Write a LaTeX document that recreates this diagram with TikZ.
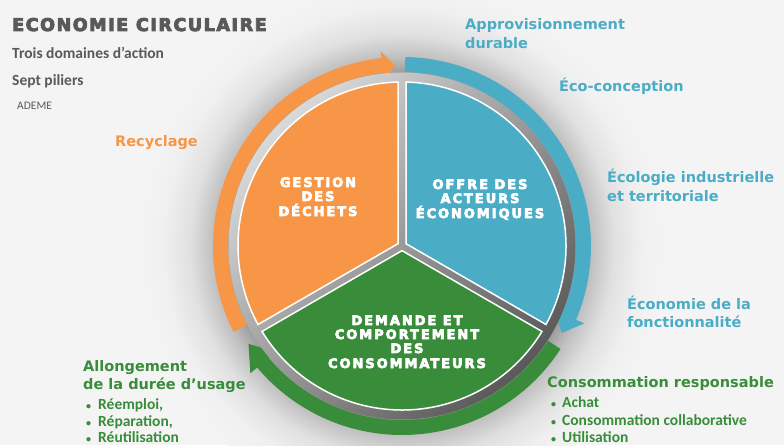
\documentclass[tikz,border=0pt]{standalone}
\usepackage{fontspec}
\setmainfont{DejaVu Sans}
\newfontfamily\dvb{DejaVu Sans Bold}
\newfontfamily\headfont{DejaVu Sans Bold}[LetterSpace=15,FakeBold=5]
\newfontfamily\titlefont{DejaVu Sans Bold}[LetterSpace=9,FakeBold=5]
\newfontfamily\carl{Carlito}
\definecolor{eorange}{RGB}{247,150,70}
\definecolor{eblue}{RGB}{75,172,198}
\definecolor{egreen}{RGB}{56,140,58}
\definecolor{etext}{RGB}{89,89,89}
\definecolor{ebg}{RGB}{244,244,244}
\pgfdeclareradialshading{glow}{\pgfpoint{0bp}{0bp}}{color(0bp)=(black!38); color(16.4bp)=(black!38); color(17.8bp)=(black!25); color(20bp)=(black!12); color(22.5bp)=(black!6); color(25bp)=(ebg); color(50bp)=(ebg)}
\tikzset{
  lbl/.style={inner sep=0pt, anchor=base west, font=\dvb\fontsize{14.5}{17}\selectfont},
  bluelbl/.style={lbl, text=eblue},
  greenlbl/.style={lbl, text=egreen},
  orangelbl/.style={lbl, text=eorange},
  bul/.style={inner sep=0pt, anchor=base west, text=egreen, font=\carl\bfseries\fontsize{15.5}{18}\selectfont},
  dot/.style={inner sep=0pt, anchor=base west, text=egreen, font=\carl\bfseries\fontsize{10}{12}\selectfont},
  pielbl/.style={inner sep=0pt, anchor=base, text=white, font=\headfont\fontsize{13}{15}\selectfont},
  graytxt/.style={inner sep=0pt, anchor=base west, text=etext},
  sector/.style={draw=white, line width=1.5pt},
  band/.style={draw=none}
}
\begin{document}
\begin{tikzpicture}[x=1pt,y=1pt]
\useasboundingbox (0,0) rectangle (784,445);
\fill[ebg] (0,0) rectangle (784,445);
% glow behind the wheel
\shade[shading=glow] (402,199) circle (265);
\begin{scope}[shift={(402,199)}]
  % arrows
  \fill[eorange, band] (207:189) arc[start angle=207, end angle=96.3, radius=189]
      -- (96.3:196) -- (92.2:181) -- (96.3:166) -- (96.3:174)
      arc[start angle=96.3, end angle=207, radius=174] -- cycle;
  \fill[eblue, band] (89:189) arc[start angle=89, end angle=-23, radius=189]
      -- (-23:198) -- (-28.5:182) -- (-23:165) -- (-23:174)
      arc[start angle=-23, end angle=89, radius=174] -- cycle;
  \fill[egreen, band] (-33:189) arc[start angle=-33, end angle=-140, radius=189]
      -- (-140:198) -- (-147.5:182) -- (-140:165) -- (-140:174)
      arc[start angle=-140, end angle=-33, radius=174] -- cycle;
  % gray ring
  \shade[top color=black!15, bottom color=black!65, shading angle=45] (0,0) circle (173.5);
  % sectors
  \draw[sector, fill=eorange] (150:4.62) -- (91.4:164) arc[start angle=91.4, end angle=208.6, radius=164] -- cycle;
  \draw[sector, fill=eblue] (30:4.62) -- (-28.6:164) arc[start angle=-28.6, end angle=88.6, radius=164] -- cycle;
  \draw[sector, fill=egreen] (270:4.62) -- (211.4:164) arc[start angle=211.4, end angle=328.6, radius=164] -- cycle;
\end{scope}
% sector labels
\node[pielbl] (g1) at (318,258) {GESTION};
\node[pielbl] (g2) at (318,244) {DES};
\node[pielbl] (g3) at (318,229) {DÉCHETS};
\node[pielbl] (o1) at (480,256) {OFFRE DES};
\node[pielbl] (o2) at (480,242) {ACTEURS};
\node[pielbl] (o3) at (480,227) {ÉCONOMIQUES};
\node[pielbl] (d1) at (407,120) {DEMANDE ET};
\node[pielbl] (d2) at (407,106) {COMPORTEMENT};
\node[pielbl] (d3) at (407,92) {DES};
\node[pielbl] (d4) at (407,77) {CONSOMMATEURS};
% title block
\node[graytxt, font=\titlefont\fontsize{17.5}{20}\selectfont] (title) at (12,414) {ECONOMIE CIRCULAIRE};
\node[graytxt, font=\carl\bfseries\fontsize{15.5}{18}\selectfont] (sub1) at (12,386) {Trois domaines d’action};
\node[graytxt, font=\carl\bfseries\fontsize{15.5}{18}\selectfont] (sub2) at (12,359) {Sept piliers};
\node[graytxt, font=\carl\fontsize{11.5}{14}\selectfont] (src) at (17,335) {ADEME};
% blue pillars
\node[bluelbl] (b1a) at (465,415) {Approvisionnement};
\node[bluelbl] (b1b) at (465,396) {durable};
\node[bluelbl] (b2) at (559,353) {Éco-conception};
\node[bluelbl] (b3a) at (607,262) {Écologie industrielle};
\node[bluelbl] (b3b) at (607,243) {et territoriale};
\node[bluelbl] (b4a) at (627,136) {Économie de la};
\node[bluelbl] (b4b) at (627,118) {fonctionnalité};
% orange pillar
\node[orangelbl] (r1) at (115,298) {Recyclage};
% green pillars
\node[greenlbl] (a1) at (83,74) {Allongement};
\node[greenlbl] (a2) at (83,56) {de la durée d’usage};
\node[dot] (ab1) at (86,36) {•};
\node[bul] (at1) at (98,36) {Réemploi,};
\node[dot] (ab2) at (86,19) {•};
\node[bul] (at2) at (98,19) {Réparation,};
\node[dot] (ab3) at (86,3) {•};
\node[bul] (at3) at (98,3) {Réutilisation};
\node[greenlbl] (c1) at (547,58) {Consommation responsable};
\node[dot] (cb1) at (551,38) {•};
\node[bul] (ct1) at (562,38) {Achat};
\node[dot] (cb2) at (551,20) {•};
\node[bul] (ct2) at (562,20) {Consommation collaborative};
\node[dot] (cb3) at (551,3) {•};
\node[bul] (ct3) at (562,3) {Utilisation};
\end{tikzpicture}
\end{document}
